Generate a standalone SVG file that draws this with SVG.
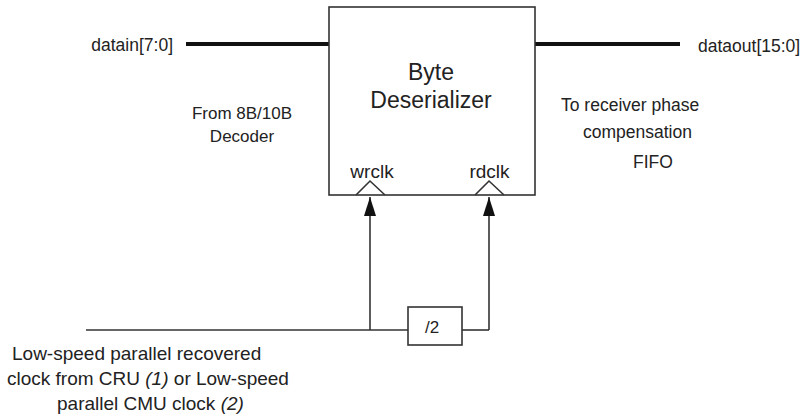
<svg xmlns="http://www.w3.org/2000/svg" width="803" height="417" viewBox="0 0 803 417">
<style>
text{font-family:"Liberation Sans",Arial,sans-serif;fill:#222;}
.t{font-size:17.5px;}
.s{font-size:17px;}
.b{font-size:19px;}
.big{font-size:23px;}
.ln{stroke:#333;stroke-width:1.6;fill:none;}
.bus{stroke:#111;stroke-width:4;fill:none;}
</style>
<defs>
<marker id="ah" markerWidth="19" markerHeight="12" refX="19" refY="6" orient="auto" markerUnits="userSpaceOnUse" viewBox="0 0 19 12">
<path d="M0,0 L19,6 L0,12 Z" fill="#111"/>
</marker>
</defs>
<rect width="803" height="417" fill="#fff"/>
<g id="connectors">
<line class="bus" x1="186" y1="44" x2="329" y2="44"/>
<line class="bus" x1="535" y1="44" x2="680" y2="44"/>
<line class="ln" x1="86" y1="330" x2="408" y2="330"/>
<line class="ln" x1="462" y1="330" x2="489" y2="330"/>
<line class="ln" x1="370" y1="330" x2="370" y2="197" marker-end="url(#ah)"/>
<line class="ln" x1="489" y1="330" x2="489" y2="197" marker-end="url(#ah)"/>
</g>
<g id="deserializer">
<rect x="329" y="7" width="206" height="188" class="ln" fill="#fff"/>
<text class="big" x="431" y="80" text-anchor="middle">Byte</text>
<text class="big" x="431" y="108" text-anchor="middle">Deserializer</text>
<polyline class="ln" points="356,195 370,181 385,195"/>
<polyline class="ln" points="475,195 489,181 504,195"/>
<text class="b" x="372" y="178" text-anchor="middle">wrclk</text>
<text class="b" x="489.5" y="178" text-anchor="middle">rdclk</text>
</g>
<g id="div2">
<rect x="408" y="307" width="54" height="38" class="ln" fill="#fff"/>
<text class="s" x="432" y="333" text-anchor="middle">/2</text>
</g>
<g id="labels">
<text class="t" x="173" y="51" text-anchor="end">datain[7:0]</text>
<text class="t" x="698" y="52">dataout[15:0]</text>
<text class="s" x="242" y="119" text-anchor="middle">From 8B/10B</text>
<text class="s" x="242" y="142" text-anchor="middle">Decoder</text>
<text class="t" x="561" y="111">To receiver phase</text>
<text class="t" x="583" y="138">compensation</text>
<text class="t" x="633" y="168">FIFO</text>
<text class="b" x="12" y="360">Low-speed parallel recovered</text>
<text class="b" x="7" y="385">clock from CRU <tspan font-style="italic">(1)</tspan> or Low-speed</text>
<text class="b" x="57" y="410">parallel CMU clock <tspan font-style="italic">(2)</tspan></text>
</g>
</svg>
